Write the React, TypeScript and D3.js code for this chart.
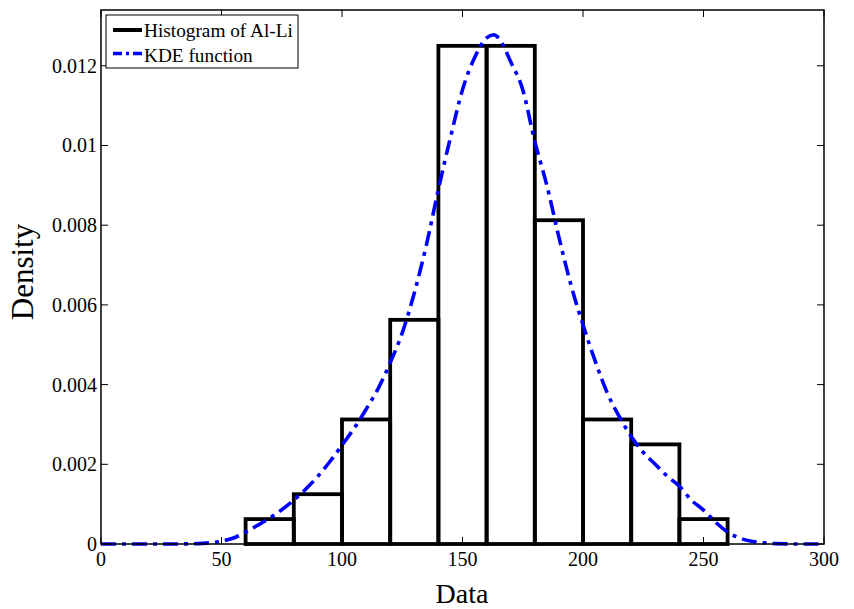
import React from "react";
import * as d3 from "d3";

const binEdges = [60, 80, 100, 120, 140, 160, 180, 200, 220, 240, 260];
const binDensity = [0.000625, 0.00125, 0.003125, 0.005625, 0.0125, 0.0125, 0.008125, 0.003125, 0.0025, 0.000625];

const kdeX = [0, 10, 20, 30, 40, 45, 50, 55, 60, 65, 70, 75, 80, 85, 90, 95, 100, 105, 110, 115, 120, 125, 130, 135, 140, 145, 150, 155, 160, 163, 165, 170, 175, 180, 185, 190, 195, 200, 205, 210, 215, 220, 225, 230, 235, 240, 245, 250, 255, 260, 265, 270, 275, 280, 290, 300];
const kdeY = [0, 0, 0, 0, 0.00001, 0.00003, 0.00007, 0.00015, 0.0003, 0.00047, 0.00065, 0.00086, 0.0011, 0.00138, 0.0017, 0.00207, 0.00248, 0.0029, 0.00338, 0.0039, 0.00455, 0.0053, 0.0063, 0.0075, 0.0089, 0.0102, 0.0114, 0.0122, 0.0127, 0.01278, 0.0127, 0.0121, 0.0114, 0.0101, 0.009, 0.0077, 0.0065, 0.0055, 0.0046, 0.0038, 0.0032, 0.0027, 0.0023, 0.002, 0.0017, 0.00145, 0.0011, 0.00085, 0.00055, 0.0003, 0.00015, 0.00007, 0.00003, 0.00001, 0, 0];

const xTicks = [0, 50, 100, 150, 200, 250, 300];
const yTicks = [0, 0.002, 0.004, 0.006, 0.008, 0.01, 0.012];
const yTickLabels = ["0", "0.002", "0.004", "0.006", "0.008", "0.01", "0.012"];
const legendLabels = ["Histogram of Al-Li", "KDE function"];

const W = 854, H = 609;
const L = 101, R = 824, T = 10, B = 544;
const FONT = "'Liberation Serif', 'Times New Roman', serif";

export default function App() {
  const x = d3.scaleLinear().domain([0, 300]).range([L, R]);
  const y = d3.scaleLinear().domain([0, 0.0134]).range([B, T]);
  const line = d3.line<number>().x((_, i) => x(kdeX[i])).y((d) => y(d)).curve(d3.curveMonotoneX);
  const kdePath = line(kdeY) || "";
  const dash = "15,6,4,6";
  return (
    <svg width={W} height={H} style={{ position: "absolute", left: 0, top: 0, background: "#fff" }} fontFamily={FONT}>
      <rect x={0} y={0} width={W} height={H} fill="#fff" />
      {binDensity.map((d, i) => (
        <rect key={i} x={x(binEdges[i])} y={y(d)} width={x(binEdges[i + 1]) - x(binEdges[i])} height={y(0) - y(d)} fill="none" stroke="#000" strokeWidth={3.8} />
      ))}
      <path d={kdePath} fill="none" stroke="#0000ff" strokeWidth={3.6} strokeDasharray={dash} />
      <rect x={L} y={T} width={R - L} height={B - T} fill="none" stroke="#000" strokeWidth={1.5} />
      {xTicks.map((t) => (
        <g key={t}>
          <line x1={x(t)} x2={x(t)} y1={B} y2={B - 7} stroke="#000" strokeWidth={1} />
          <line x1={x(t)} x2={x(t)} y1={T} y2={T + 7} stroke="#000" strokeWidth={1} />
          <text x={x(t)} y={566} textAnchor="middle" fontSize={20} fill="#000">{t}</text>
        </g>
      ))}
      {yTicks.map((t, i) => (
        <g key={t}>
          <line x1={L} x2={L + 7} y1={y(t)} y2={y(t)} stroke="#000" strokeWidth={1} />
          <line x1={R} x2={R - 7} y1={y(t)} y2={y(t)} stroke="#000" strokeWidth={1} />
          <text x={97} y={y(t) + 7} textAnchor="end" fontSize={20} fill="#000">{yTickLabels[i]}</text>
        </g>
      ))}
      <text x={462} y={603} textAnchor="middle" fontSize={28} fill="#000">Data</text>
      <text transform={`translate(33, 272) rotate(-90)`} textAnchor="middle" fontSize={31} fill="#000">Density</text>
      <rect x={106} y={15} width={192} height={53} fill="#fff" stroke="#000" strokeWidth={1} />
      <line x1={113} x2={142} y1={30} y2={30} stroke="#000" strokeWidth={4} />
      <text x={144} y={37} fontSize={19.3} fill="#000">{legendLabels[0]}</text>
      <line x1={113} x2={142} y1={53.5} y2={53.5} stroke="#0000ff" strokeWidth={3.6} strokeDasharray="9,4,3,4" />
      <text x={144} y={61.5} fontSize={19.3} fill="#000">{legendLabels[1]}</text>
    </svg>
  );
}
